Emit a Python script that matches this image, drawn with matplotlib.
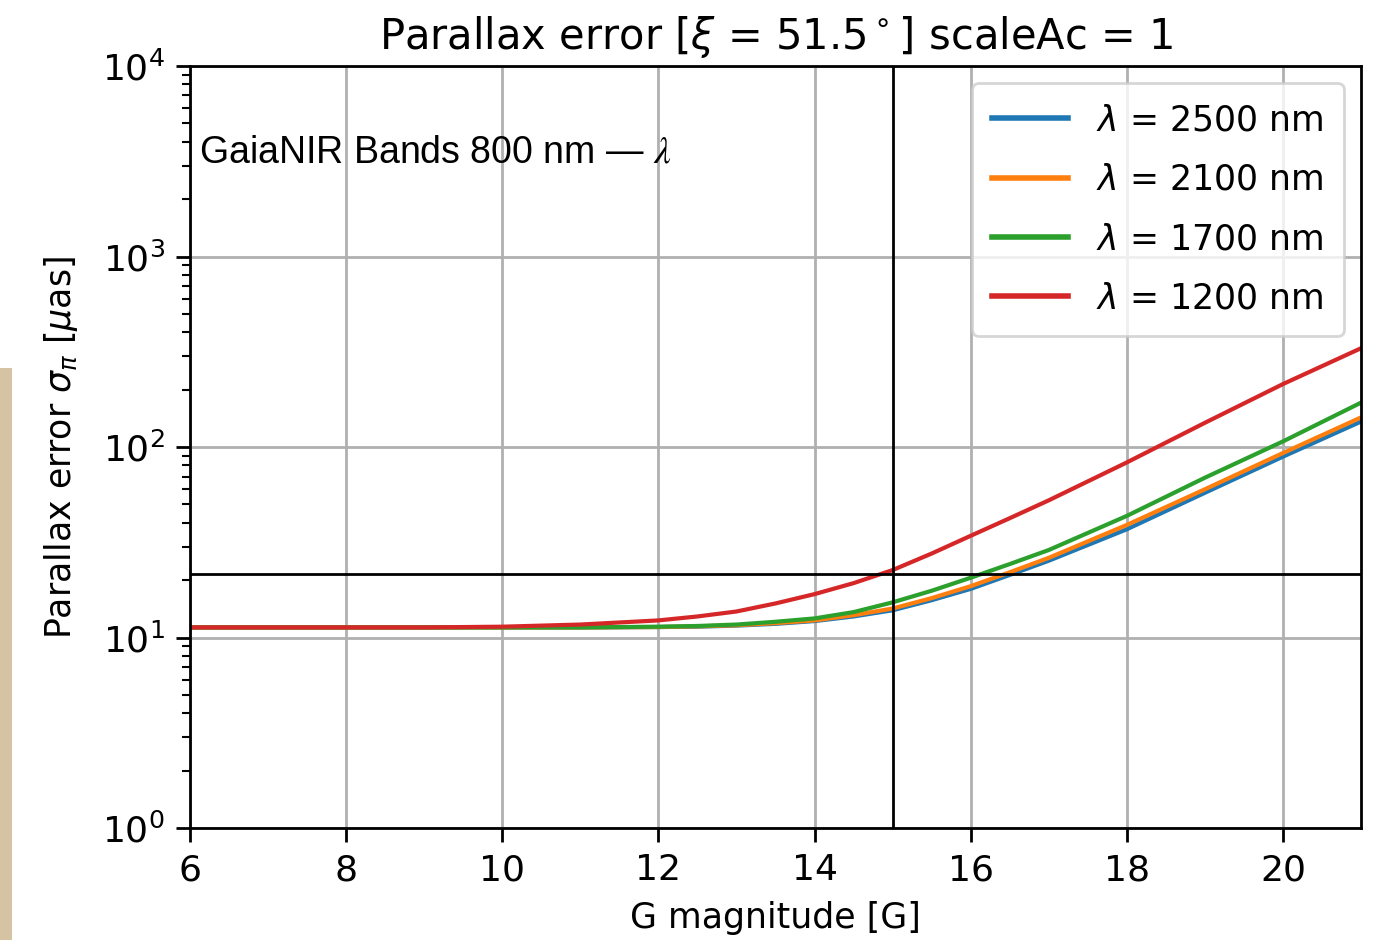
import numpy as np
import matplotlib
matplotlib.use('Agg')
from matplotlib import pyplot as plt
from matplotlib.patches import Rectangle

# G magnitudes and parallax errors (uas)
mag = [6, 7, 8, 9, 10, 11, 12, 12.5, 13, 13.5, 14, 14.5, 15, 15.5, 16, 16.5, 17, 18, 19, 20, 21]
err_2500 = [11.3, 11.3, 11.3, 11.3, 11.3, 11.3, 11.35, 11.4, 11.55, 11.8, 12.2, 12.9, 13.9, 15.7, 18.0, 21.3, 25.3, 37.0, 57.5, 89.0, 136.0]
err_2100 = [11.3, 11.3, 11.3, 11.3, 11.3, 11.3, 11.35, 11.45, 11.6, 11.9, 12.3, 13.1, 14.2, 16.1, 18.6, 22.0, 26.2, 39.0, 60.0, 93.0, 143.0]
err_1700 = [11.3, 11.3, 11.3, 11.3, 11.3, 11.3, 11.4, 11.5, 11.7, 12.1, 12.6, 13.6, 15.3, 17.6, 20.6, 24.3, 28.8, 43.5, 69.0, 107.0, 171.0]
err_1200 = [11.3, 11.3, 11.3, 11.3, 11.4, 11.7, 12.3, 12.9, 13.7, 15.1, 16.9, 19.3, 22.6, 27.6, 34.2, 42.3, 52.5, 83.0, 134.0, 214.0, 330.0]
labels = ['$\\lambda$ = 2500 nm', '$\\lambda$ = 2100 nm', '$\\lambda$ = 1700 nm', '$\\lambda$ = 1200 nm']
colors = ['#1f77b4', '#ff7f0e', '#2ca02c', '#d62728']
g_ref = 15
err_ref = 21.5

fig = plt.figure(figsize=(13.84, 9.4), dpi=100)
ax = fig.add_axes([0.1373, 0.1191, 0.8461, 0.8107])

# beige strip on the left edge of the screenshot
fig.patches.append(Rectangle((0, 0), 12 / 1384, 572 / 940, transform=fig.transFigure,
                             facecolor='#d6c3a3', edgecolor='none', zorder=-1))

for ys, lab, c in zip([err_2500, err_2100, err_1700, err_1200], labels, colors):
    ax.plot(mag, ys, color=c, lw=3, label=lab)

ax.axvline(g_ref, color='black', lw=2)
ax.axhline(err_ref, color='black', lw=2)

ax.set_yscale('log')
ax.set_xlim(6, 21)
ax.set_ylim(1, 1e4)
ax.set_xticks([6, 8, 10, 12, 14, 16, 18, 20])
ax.grid(True, which='major', color='#b0b0b0', lw=2)

ax.tick_params(axis='both', which='major', labelsize=26, length=10, width=2, pad=8)
ax.tick_params(axis='y', which='minor', length=6, width=1.5)
for s in ax.spines.values():
    s.set_linewidth(2)

ax.set_xlabel('G magnitude [G]', fontsize=25, labelpad=10)
ax.set_ylabel('Parallax error $\\sigma_\\pi$ [$\\mu$as]', fontsize=25, labelpad=16)
ax.set_title('Parallax error [$\\xi$ = 51.5$^\\circ$] scaleAc = 1', fontsize=30, pad=12)

ax.text(0.008, 0.887, 'GaiaNIR Bands 800 nm \u2014 $\\lambda$', transform=ax.transAxes,
        fontsize=27, family='Liberation Sans', math_fontfamily='stix', va='center', ha='left')

leg = ax.legend(loc='upper right', fontsize=25, framealpha=0.8, borderaxespad=0.5,
                labelspacing=0.73, handlelength=2.2, borderpad=0.58)
leg.get_frame().set_linewidth(2)
for l in leg.get_lines():
    l.set_linewidth(4)

fig.savefig('out.png', dpi=100)
